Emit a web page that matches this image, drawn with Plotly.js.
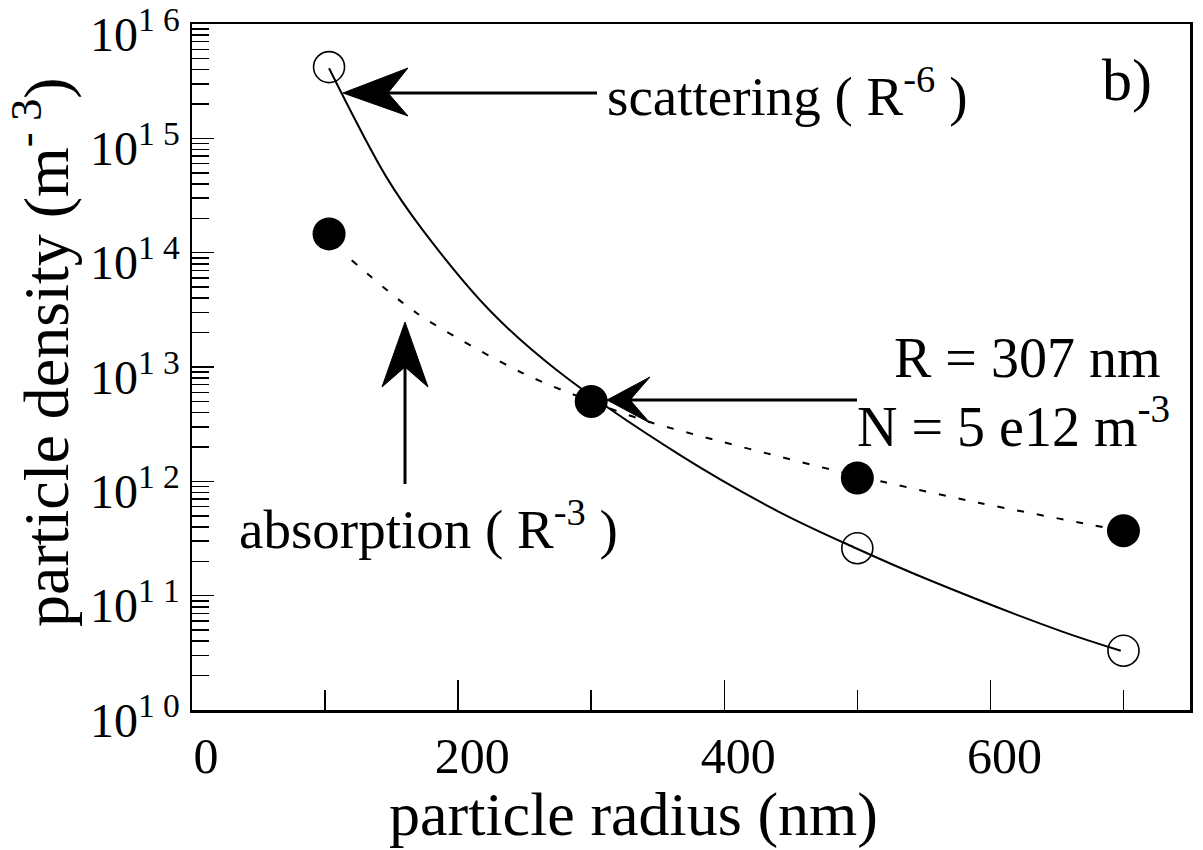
<!DOCTYPE html>
<html><head><meta charset="utf-8">
<script src="https://cdn.plot.ly/plotly-3.0.1.min.js"></script>
<style>html,body{margin:0;padding:0;background:#fff}</style>
</head><body><div id="chart" style="width:1203px;height:850px"></div>
<script>
// ---- data ----
const scatterPointsR = [103, 500, 700];
const scatterPointsN = [4.2e15, 2.6e11, 3.3e10];
const absorbPointsR = [103, 300, 500, 700];
const absorbPointsN = [1.46e14, 5.0e12, 1.07e12, 3.7e11];
const scatterFitR = [103, 146, 173, 224, 274, 368, 440, 499, 554, 653, 698];
const scatterFitN = [4.1e15, 4.6e14, 1.6e14, 3.1e13, 9.4e12, 1.66e12, 5.5e11, 2.6e11, 1.37e11, 4.9e10, 3.3e10];
const absorbFitR = [120, 169, 248, 300, 344, 481, 521, 591, 674, 698];
const absorbFitN = [8.6e13, 2.95e13, 8.9e12, 5.0e12, 3.3e12, 1.26e12, 9.8e11, 6.5e11, 4.2e11, 3.7e11];
const xTickVals = [0, 200, 400, 600];
const yTickExps = [10, 11, 12, 13, 14, 15, 16];
const yTickText = yTickExps.map(e => '10<sup>' + String(e).split('').join(' ') + '</sup>');

// ---- layout geometry ----
const W = 1203, H = 850;
const L = 192, R = 1190, T = 24, B = 710;
const FONT = 'Liberation Serif, Times New Roman, serif';
const px2paper = (x, y) => [(x - L) / (R - L), (B - y) / (B - T)];
function headPath(tip, b1, notch, b2) {
  const p = [tip, b1, notch, b2].map(q => px2paper(q[0], q[1]));
  return 'M' + p.map(q => q[0].toFixed(5) + ',' + q[1].toFixed(5)).join(' L') + ' Z';
}
function lineShape(x0, y0, x1, y1, w) {
  const a = px2paper(x0, y0), b = px2paper(x1, y1);
  return {type: 'line', xref: 'paper', yref: 'paper', x0: a[0], y0: a[1], x1: b[0], y1: b[1],
          line: {color: '#000', width: w}};
}
function headShape(tip, b1, notch, b2) {
  return {type: 'path', xref: 'paper', yref: 'paper', path: headPath(tip, b1, notch, b2),
          fillcolor: '#000', line: {color: '#000', width: 1}};
}

const minorY = [];
for (let e = 10; e < 16; e++) for (let k = 2; k <= 9; k++) minorY.push(k * Math.pow(10, e));

const traces = [
  {x: scatterFitR, y: scatterFitN, mode: 'lines', line: {color: '#000', width: 2, shape: 'spline', smoothing: 1},
   hoverinfo: 'skip', showlegend: false},
  {x: absorbFitR, y: absorbFitN, mode: 'lines', line: {color: '#000', width: 2, dash: '7px,13px', shape: 'spline', smoothing: 0.8},
   hoverinfo: 'skip', showlegend: false},
  {x: scatterPointsR, y: scatterPointsN, mode: 'markers',
   marker: {symbol: 'circle-open', size: 31, color: '#000', line: {width: 1.6, color: '#000'}}, showlegend: false},
  {x: absorbPointsR, y: absorbPointsN, mode: 'markers',
   marker: {symbol: 'circle', size: 33, color: '#000', line: {width: 0}}, showlegend: false}
];

const ann = (text, x, y, size, xanchor) => ({text, xref: 'paper', yref: 'paper',
  x: px2paper(x, y)[0], y: px2paper(x, y)[1], xanchor: xanchor || 'center', yanchor: 'middle',
  showarrow: false, font: {family: FONT, size, color: '#000'}});

const layout = {
  width: W, height: H,
  margin: {l: L, r: W - R, t: T, b: H - B, pad: 0},
  paper_bgcolor: '#fff', plot_bgcolor: '#fff',
  font: {family: FONT, color: '#000'},
  showlegend: false,
  xaxis: {range: [0, 750], tickvals: xTickVals, ticks: 'inside', ticklen: 30, tickwidth: 1.5, tickcolor: '#000',
          showgrid: false, zeroline: false, showline: true, linewidth: 2.5, linecolor: '#000', mirror: true,
          tickfont: {family: FONT, size: 50, color: '#000'}, ticklabelshift: 14, ticklabeloverflow: 'allow',
          minor: {dtick: 100, tick0: 0, ticks: 'inside', ticklen: 20, tickwidth: 1.5, tickcolor: '#000', showgrid: false}},
  yaxis: {type: 'log', range: [10, 16], tickvals: yTickExps.map(e => Math.pow(10, e)), ticktext: yTickText,
          ticks: 'inside', ticklen: 22, tickwidth: 1.5, tickcolor: '#000',
          showgrid: false, zeroline: false, showline: true, linewidth: 2.5, linecolor: '#000', mirror: true,
          tickfont: {family: FONT, size: 48, color: '#000'}, ticklabelshift: 10, ticklabeloverflow: 'allow',
          minor: {tickvals: minorY, ticks: 'inside', ticklen: 17, tickwidth: 1.5, tickcolor: '#000', showgrid: false}},
  annotations: [
    ann('particle radius (nm)', 633, 814, 62),
    Object.assign(ann('particle density (m<sup>- 3</sup>)', 41, 352, 64), {textangle: -90}),
    ann('scattering ( R<sup>-6</sup> )', 605, 93, 55, 'left'),
    ann('b)', 1127, 80, 60),
    ann('R = 307 nm', 1027, 358, 56),
    ann('N = 5 e12 m<sup>-3</sup>', 855, 422, 56, 'left'),
    ann('absorption ( R<sup>-3</sup> )', 237, 525, 55, 'left')
  ],
  shapes: [
    lineShape(388, 93, 597, 93, 3),
    headShape([343, 93], [408, 68], [388, 93], [408, 116]),
    lineShape(628, 400, 857, 400, 3),
    headShape([607, 400], [650, 377], [630, 400], [650, 423]),
    lineShape(405, 365, 405, 484, 3),
    headShape([405, 322], [382, 387], [405, 367], [428, 387])
  ]
};

Plotly.newPlot('chart', traces, layout, {displayModeBar: false, staticPlot: true});
</script></body></html>
